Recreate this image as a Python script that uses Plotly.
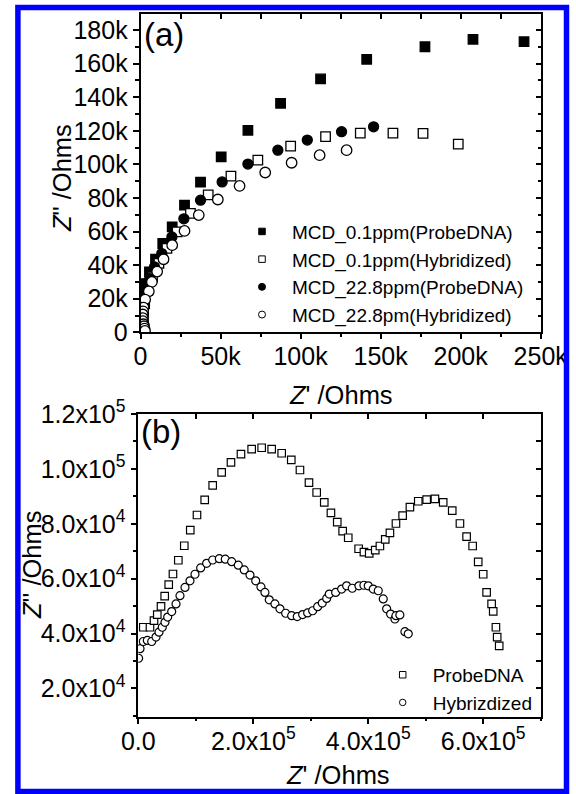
import plotly.graph_objects as go

W, H = 576, 794

# ---------------- Panel (a) data (Ohms, values in k) ----------------
a_probe01_x = [239.6, 207.7, 177.7, 141.3, 112.5, 87.5, 67.1, 50.4, 37.5, 27.5, 19.8, 13.9, 9.4, 5.6, 3.5, 2.2, 1.6, 1.5, 2.0]
a_probe01_y = [173.1, 174.5, 170.1, 162.6, 150.9, 136.4, 120.3, 104.5, 89.4, 75.7, 62.8, 52.9, 43.5, 36.0, 29.0, 22.0, 15.0, 8.0, 2.0]

a_hyb01_x = [198.5, 176.5, 157.7, 137.3, 115.6, 93.8, 73.3, 56.5, 42.3, 31.2, 22.9, 16.5, 11.5, 7.5, 4.5, 2.6, 1.7]
a_hyb01_y = [112.1, 118.5, 118.7, 118.7, 116.5, 110.9, 102.6, 93.0, 81.9, 70.8, 59.8, 50.0, 41.0, 33.0, 25.0, 17.0, 9.0]

a_probe228_x = [145.6, 125.6, 104.2, 85.8, 67.1, 51.0, 37.5, 27.1, 19.6, 13.3, 8.75, 5.8, 3.8, 2.4, 1.8, 1.9, 2.6]
a_probe228_y = [122.4, 119.5, 114.5, 108.5, 100.2, 89.6, 78.7, 67.6, 56.8, 46.9, 38.9, 32.0, 25.0, 18.0, 11.0, 5.0, 1.0]

a_hyb228_x = [128.75, 111.9, 94.4, 77.9, 61.9, 48.3, 36.4, 27.5, 19.8, 14.4, 10.4, 7.1, 5.2, 2.9, 1.9, 1.6, 1.4, 1.4, 1.5, 1.9, 2.2, 2.5, 2.8]
a_hyb228_y = [108.5, 105.5, 101.0, 95.2, 87.2, 79.1, 69.8, 60.4, 51.9, 43.5, 36.2, 30.0, 24.4, 19.5, 14.7, 12.5, 10.6, 8.5, 6.6, 4.8, 3.6, 2.2, 0.8]

a_names = ["MCD_0.1ppm(ProbeDNA)", "MCD_0.1ppm(Hybridized)", "MCD_22.8ppm(ProbeDNA)", "MCD_22.8pm(Hybridized)"]

a_xtickvals = [0, 50000, 100000, 150000, 200000, 250000]
a_xticktext = ["0", "50k", "100k", "150k", "200k", "250k"]
a_ytickvals = [0, 20000, 40000, 60000, 80000, 100000, 120000, 140000, 160000, 180000]
a_yticktext = ["0", "20k", "40k", "60k", "80k", "100k", "120k", "140k", "160k", "180k"]

# ---------------- Panel (b) data (Ohms, values in k) ----------------
b_probe_x = [8.7, 20.3, 27.3, 33.0, 39.5, 45.9, 52.9, 60.3, 69.6, 80.0, 90.4, 102.1, 115.5, 129.4, 145.0, 161.2,
             178.6, 197.2, 214.6, 232.0, 249.4, 266.1, 281.2, 296.9, 310.3, 323.5, 335.1, 346.1, 355.5, 365.2,
             383.3, 392.5, 401.7, 412.2, 420.3, 429.6, 437.7, 448.2, 459.8, 472.5, 487.0, 501.6, 516.0, 530.4,
             546.1, 559.5, 571.1, 581.6, 591.3, 600.0, 605.9, 614.6, 617.4, 622.1, 624.3, 627.8]
b_probe_y = [42.3, 42.3, 44.7, 46.9, 49.9, 53.6, 57.8, 61.7, 66.7, 72.0, 77.7, 83.2, 88.7, 94.0, 98.7, 102.4,
             105.4, 107.2, 107.7, 107.2, 105.7, 103.3, 99.6, 95.0, 91.4, 87.8, 84.0, 80.6, 77.3, 74.9,
             70.9, 69.7, 69.2, 70.4, 71.9, 74.3, 76.7, 80.1, 83.0, 86.1, 88.2, 88.8, 89.1, 87.8,
             84.8, 80.1, 75.3, 71.9, 66.1, 61.6, 55.0, 50.8, 48.1, 42.3, 38.7, 35.5]

b_hyb_x = [0.5, 3.0, 8.7, 15.7, 23.3, 30.8, 36.0, 41.7, 46.4, 51.1, 58.1, 65.6, 72.5, 81.2, 89.9, 98.6, 108.5,
           118.9, 129.4, 140.9, 151.3, 162.4, 173.9, 184.3, 194.3, 204.2, 213.4, 220.3, 227.8, 237.7, 246.4,
           256.3, 266.8, 276.5, 285.9, 294.6, 303.3, 312.0, 320.0, 327.7, 332.2, 343.3, 353.7, 362.4, 372.2,
           383.8, 392.5, 400.0, 408.7, 417.4, 426.1, 432.0, 438.9, 446.4, 448.2, 455.0, 463.8, 469.6]
b_hyb_y = [31.0, 34.5, 37.1, 37.5, 37.1, 38.7, 40.5, 42.3, 44.1, 46.0, 48.0, 50.8, 53.8, 56.8, 59.2, 61.6, 63.9,
           65.6, 66.8, 67.3, 67.1, 66.2, 64.9, 63.2, 61.3, 59.2, 57.0, 55.0, 52.3, 50.8, 49.0,
           47.4, 46.5, 46.2, 46.9, 47.5, 48.3, 49.8, 51.1, 52.8, 54.4, 55.0, 56.2, 57.4, 56.5,
           57.4, 57.6, 57.4, 56.2, 55.6, 52.6, 49.0, 47.1, 45.3, 46.5, 46.8, 40.7, 39.9]

b_names = ["ProbeDNA", "Hybrizdized"]

b_xtickvals = [0, 200000, 400000, 600000]
b_xticktext = ["0.0", "2.0x10<sup>5</sup>", "4.0x10<sup>5</sup>", "6.0x10<sup>5</sup>"]
b_ytickvals = [20000, 40000, 60000, 80000, 100000, 120000]
b_yticktext = ["2.0x10<sup>4</sup>", "4.0x10<sup>4</sup>", "6.0x10<sup>4</sup>", "8.0x10<sup>4</sup>",
               "1.0x10<sup>5</sup>", "1.2x10<sup>5</sup>"]


def k(v):
    return [x * 1000 for x in v]


def px_x(p):
    return p / W


def px_y(p):
    return 1 - p / H


FONT = "Liberation Sans, Arial, sans-serif"
fig = go.Figure()

# ---- panel (a) traces
a_specs = [
    (a_probe01_x, a_probe01_y, "square", "black", 9.5),
    (a_hyb01_x, a_hyb01_y, "square", "white", 9.5),
    (a_probe228_x, a_probe228_y, "circle", "black", 10),
    (a_hyb228_x, a_hyb228_y, "circle", "white", 10.5),
]
for (xs, ys, sym, fill, size), name in zip(a_specs, a_names):
    fig.add_trace(go.Scatter(x=k(xs), y=k(ys), mode="markers", name=name, showlegend=False,
                             marker=dict(symbol=sym, size=size, color=fill, line=dict(color="black", width=1.3)),
                             xaxis="x", yaxis="y"))
for (xs, ys, sym, fill, size), name in zip(a_specs, a_names):
    fig.add_trace(go.Scatter(x=[None], y=[None], mode="markers", name=name, showlegend=True, legend="legend",
                             marker=dict(symbol=sym, size=7 if sym == "circle" else 6.5, color=fill,
                                         line=dict(color="black", width=1)),
                             xaxis="x", yaxis="y"))

# ---- panel (b) traces
b_specs = [
    (b_probe_x, b_probe_y, "square"),
    (b_hyb_x, b_hyb_y, "circle"),
]
for (xs, ys, sym), name in zip(b_specs, b_names):
    fig.add_trace(go.Scatter(x=k(xs), y=k(ys), mode="markers", name=name, showlegend=False,
                             marker=dict(symbol=sym, size=7.5 if sym == "square" else 8, color="white",
                                         line=dict(color="black", width=1.2)),
                             xaxis="x2", yaxis="y2"))
for (xs, ys, sym), name in zip(b_specs, b_names):
    fig.add_trace(go.Scatter(x=[None], y=[None], mode="markers", name=name, showlegend=True, legend="legend2",
                             marker=dict(symbol=sym, size=6.5, color="white", line=dict(color="black", width=1)),
                             xaxis="x2", yaxis="y2"))

# dummy traces so that the extra tick axes are drawn
for xa, ya in [("x3", "y"), ("x", "y3"), ("x4", "y2"), ("x2", "y4"), ("x5", "y"), ("x6", "y2")]:
    fig.add_trace(go.Scatter(x=[None], y=[None], mode="markers", showlegend=False, hoverinfo="skip",
                             xaxis=xa, yaxis=ya))

a_dom_x = [px_x(140.5), px_x(540.7)]
a_dom_y = [px_y(332.3), px_y(14)]
b_dom_x = [px_x(138.3), px_x(540.7)]
b_dom_y = [px_y(716.7), px_y(414)]

a_xrange = [0, 250000]
a_yrange = [0, 189600]
b_xrange = [0, 700000]
b_yrange = [9700, 120000]

tf = dict(family=FONT, size=25, color="black")
common = dict(showgrid=False, zeroline=False, showline=True, linecolor="black", linewidth=1.6, mirror=True,
              ticks="outside", ticklen=6, tickwidth=1.5, tickcolor="black", automargin=False, tickfont=tf)
xlab = dict(showgrid=False, zeroline=False, showline=True, linecolor="black", linewidth=1.6, mirror=True,
            ticks="", automargin=False, tickfont=tf)
inner = dict(showgrid=False, zeroline=False, showline=False, ticks="inside", tickcolor="black", tickwidth=1.5,
             showticklabels=False, automargin=False)
outer = dict(showgrid=False, zeroline=False, showline=False, ticks="outside", tickcolor="black", tickwidth=1.5,
             ticklen=6, showticklabels=False, automargin=False)

fig.update_layout(
    width=W, height=H, margin=dict(l=0, r=0, t=0, b=0),
    paper_bgcolor="white", plot_bgcolor="white",
    font=dict(family=FONT, size=25, color="black"),
    xaxis=dict(domain=a_dom_x, anchor="y", range=a_xrange, tickmode="array", tickvals=a_xtickvals,
               ticktext=a_xticktext, ticklabelstandoff=1, **xlab),
    yaxis=dict(domain=a_dom_y, anchor="x", range=a_yrange, tickmode="array", tickvals=a_ytickvals,
               ticktext=a_yticktext,
               minor=dict(tickmode="linear", tick0=0, dtick=10000, ticks="outside", ticklen=3.5, tickwidth=1.5,
                          tickcolor="black", showgrid=False), **common),
    xaxis2=dict(domain=b_dom_x, anchor="y2", range=b_xrange, tickmode="array", tickvals=b_xtickvals,
                ticktext=b_xticktext, ticklabelstandoff=1, **xlab),
    yaxis2=dict(domain=b_dom_y, anchor="x2", range=b_yrange, tickmode="array", tickvals=b_ytickvals,
                ticktext=b_yticktext,
                minor=dict(tickmode="linear", tick0=0, dtick=10000, ticks="outside", ticklen=3.5, tickwidth=1.5,
                           tickcolor="black", showgrid=False), **common),
    # bottom tick marks (outside) drawn without labels
    xaxis5=dict(overlaying="x", anchor="y", side="bottom", range=a_xrange, tickmode="linear", tick0=0,
                dtick=50000, minor=dict(tickmode="linear", tick0=0, dtick=25000, ticks="outside", ticklen=3.5,
                                        tickwidth=1.5, tickcolor="black", showgrid=False), **outer),
    xaxis6=dict(overlaying="x2", anchor="y2", side="bottom", range=b_xrange, tickmode="linear", tick0=0,
                dtick=200000, minor=dict(tickmode="linear", tick0=0, dtick=100000, ticks="outside", ticklen=3.5,
                                         tickwidth=1.5, tickcolor="black", showgrid=False), **outer),
    # mirrored inner ticks on top / right
    xaxis3=dict(overlaying="x", anchor="y", side="top", range=a_xrange, tickmode="linear", tick0=0, dtick=25000,
                ticklen=5, **inner),
    yaxis3=dict(overlaying="y", anchor="x", side="right", range=a_yrange, tickmode="linear", tick0=0, dtick=20000,
                ticklen=5, minor=dict(tickmode="linear", tick0=0, dtick=10000, ticks="inside", ticklen=3,
                                      tickcolor="black", tickwidth=1.5), **inner),
    xaxis4=dict(overlaying="x2", anchor="y2", side="top", range=b_xrange, tickmode="linear", tick0=0,
                dtick=100000, ticklen=5, **inner),
    yaxis4=dict(overlaying="y2", anchor="x2", side="right", range=b_yrange, tickmode="linear", tick0=0,
                dtick=10000, ticklen=5, **inner),
    legend=dict(x=px_x(232), y=px_y(212.6), xanchor="left", yanchor="top", itemwidth=50,
                bgcolor="rgba(0,0,0,0)", borderwidth=0, font=dict(family=FONT, size=19, color="black"),
                tracegroupgap=0),
    legend2=dict(x=px_x(372.7), y=px_y(655.9), xanchor="left", yanchor="top", itemwidth=50,
                 bgcolor="rgba(0,0,0,0)", borderwidth=0, font=dict(family=FONT, size=19, color="black"),
                 tracegroupgap=0),
    shapes=[dict(type="rect", xref="paper", yref="paper", x0=px_x(17.9), x1=px_x(566.5),
                 y0=px_y(791.5), y1=px_y(7.5), line=dict(color="#0000ff", width=5.5), fillcolor="rgba(0,0,0,0)")],
    annotations=[
        dict(text="(a)", x=px_x(142), y=px_y(34), xref="paper", yref="paper", xanchor="left", yanchor="middle",
             showarrow=False, font=dict(family=FONT, size=33, color="black")),
        dict(text="(b)", x=px_x(138.5), y=px_y(431), xref="paper", yref="paper", xanchor="left", yanchor="middle",
             showarrow=False, font=dict(family=FONT, size=33, color="black")),
        dict(text="<i>Z</i>' /Ohms", x=px_x(341), y=px_y(395), xref="paper", yref="paper", xanchor="center",
             yanchor="middle", showarrow=False, font=dict(family=FONT, size=25.5, color="black")),
        dict(text="<i>Z</i>\" /Ohms", x=px_x(62), y=px_y(178), xref="paper", yref="paper", xanchor="center",
             yanchor="middle", textangle=-90, showarrow=False, font=dict(family=FONT, size=25.5, color="black")),
        dict(text="<i>Z</i>' /Ohms", x=px_x(338), y=px_y(775), xref="paper", yref="paper", xanchor="center",
             yanchor="middle", showarrow=False, font=dict(family=FONT, size=25.5, color="black")),
        dict(text="<i>Z</i>'' /Ohms", x=px_x(32), y=px_y(565), xref="paper", yref="paper", xanchor="center",
             yanchor="middle", textangle=-90, showarrow=False, font=dict(family=FONT, size=25.5, color="black")),
    ],
)

fig.write_html("out.html")
